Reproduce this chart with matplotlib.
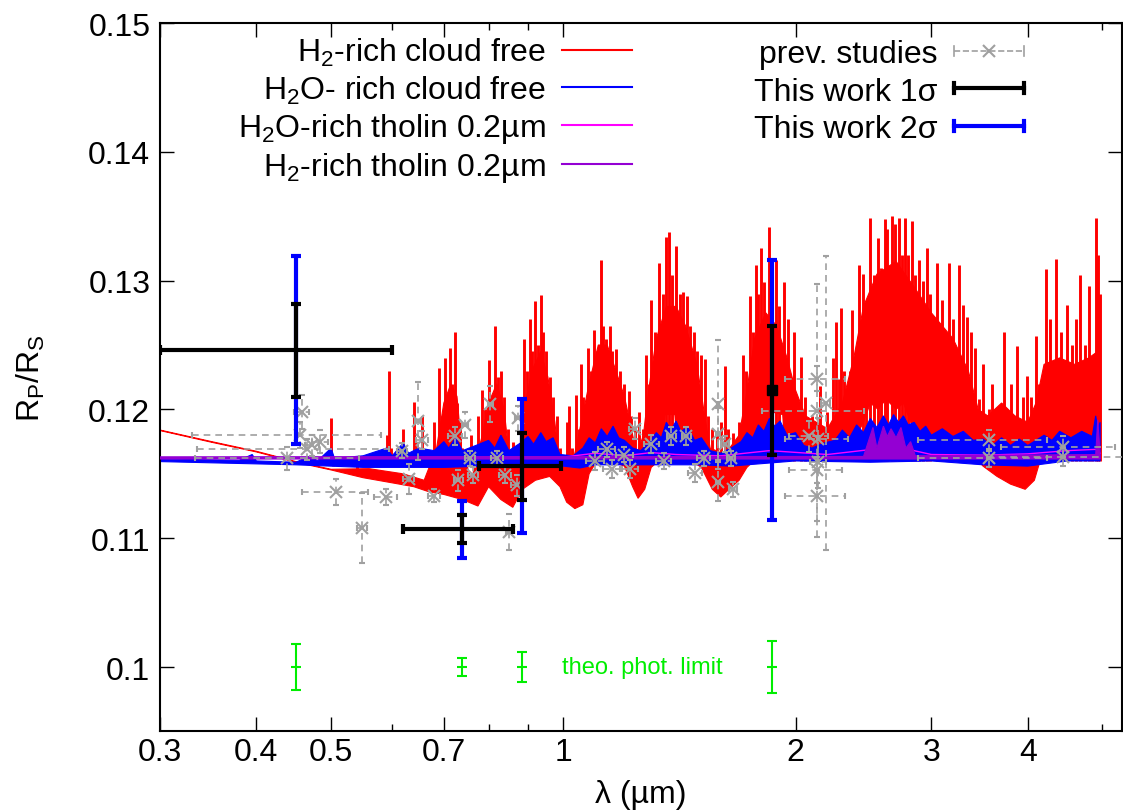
import numpy as np
import matplotlib
matplotlib.use("Agg")
import matplotlib.pyplot as plt
from matplotlib.lines import Line2D
from matplotlib.legend_handler import HandlerBase
from matplotlib.ticker import FixedLocator, NullFormatter

plt.rcParams['font.family'] = ['Liberation Sans', 'DejaVu Sans']
plt.rcParams['mathtext.fontset'] = 'custom'
plt.rcParams['mathtext.rm'] = 'Liberation Sans'
plt.rcParams['mathtext.it'] = 'Liberation Sans:italic'
plt.rcParams['mathtext.bf'] = 'Liberation Sans:bold'

# ---- H2-rich cloud free: dense part (core top / bottom) and line peaks ----
red_core_wl = [0.300, 0.350, 0.400, 0.450, 0.500, 0.560, 0.620, 0.660, 0.685, 0.700, 0.715, 0.728, 0.738, 0.760,
               0.785, 0.800, 0.820, 0.838, 0.850, 0.875, 0.890, 0.910, 0.935, 0.955, 0.975, 0.990, 1.030, 1.055,
               1.080, 1.110, 1.140, 1.170, 1.200, 1.225, 1.245, 1.270, 1.290, 1.320, 1.360, 1.400, 1.440, 1.490,
               1.525, 1.550, 1.620, 1.690, 1.725, 1.770, 1.830, 1.890, 1.950, 2.000, 2.060, 2.200, 2.300, 2.380,
               2.450, 2.550, 2.700, 2.850, 3.000, 3.200, 3.350, 3.450, 3.550, 3.700, 3.850, 4.000, 4.100, 4.200,
               4.400, 4.600, 4.800, 4.930, 4.965]
red_core_r = [0.11840, 0.11750, 0.11675, 0.11595, 0.11535, 0.11540, 0.11500, 0.11450, 0.11700, 0.12050, 0.12200,
              0.12100, 0.11700, 0.11450, 0.11800, 0.12050, 0.12200, 0.12000, 0.11650, 0.11600, 0.12000, 0.12300,
              0.12450, 0.12250, 0.11900, 0.11550, 0.11600, 0.11900, 0.12200, 0.12500, 0.12500, 0.12300, 0.12100,
              0.11850, 0.11650, 0.11800, 0.12150, 0.12550, 0.12800, 0.12800, 0.12650, 0.12350, 0.11950, 0.11700,
              0.11650, 0.11800, 0.12100, 0.12550, 0.12750, 0.12650, 0.12400, 0.12150, 0.11950, 0.11850, 0.12050,
              0.12400, 0.12800, 0.13050, 0.13150, 0.12950, 0.12750, 0.12550, 0.12300, 0.12000, 0.11950, 0.12050,
              0.11950, 0.11900, 0.12050, 0.12350, 0.12400, 0.12350, 0.12400, 0.12450, 0.11650]
red_bot_wl = [0.300, 0.350, 0.400, 0.450, 0.500, 0.550, 0.600, 0.640, 0.670, 0.700, 0.740, 0.775, 0.800, 0.830,
              0.860, 0.885, 0.920, 0.960, 0.990, 1.010, 1.035, 1.060, 1.080, 1.100, 1.150, 1.200, 1.230, 1.250,
              1.275, 1.300, 1.340, 1.355, 1.395, 1.410, 1.450, 1.510, 1.560, 1.600, 1.640, 1.690, 1.730, 1.780,
              1.850, 1.865, 1.925, 1.940, 2.000, 2.250, 2.350, 2.450, 2.500, 2.560, 2.620, 2.700, 2.760, 2.820,
              2.900, 3.200, 3.400, 3.500, 3.650, 3.800, 3.970, 4.080, 4.150, 4.500, 4.965]
red_bot_r = [0.11836, 0.11745, 0.11670, 0.11590, 0.11530, 0.11470, 0.11430, 0.11400, 0.11360, 0.11340, 0.11300,
             0.11250, 0.11400, 0.11300, 0.11240, 0.11380, 0.11450, 0.11480, 0.11400, 0.11280, 0.11230, 0.11260,
             0.11500, 0.11580, 0.11600, 0.11560, 0.11400, 0.11310, 0.11380, 0.11550, 0.11620, 0.11960, 0.11960,
             0.11620, 0.11620, 0.11550, 0.11380, 0.11320, 0.11380, 0.11450, 0.11550, 0.11620, 0.11640, 0.11980,
             0.11960, 0.11640, 0.11640, 0.11650, 0.11700, 0.11900, 0.12050, 0.12000, 0.12080, 0.12000, 0.12050,
             0.11900, 0.11820, 0.11800, 0.11650, 0.11560, 0.11480, 0.11420, 0.11380, 0.11450, 0.11600, 0.11650,
             0.11650]
red_peak_wl = [0.480, 0.497, 0.500, 0.503, 0.540, 0.560, 0.575, 0.590, 0.594, 0.598,
               0.605, 0.620, 0.627, 0.640, 0.646, 0.655, 0.665, 0.680, 0.690, 0.697, 0.702, 0.708, 0.713, 0.718,
               0.724, 0.729, 0.734, 0.740, 0.760, 0.775, 0.785, 0.792, 0.800, 0.806, 0.815, 0.822, 0.830, 0.838,
               0.848, 0.860, 0.880, 0.890, 0.897, 0.905, 0.912, 0.920, 0.927, 0.935, 0.942, 0.950, 0.960, 0.970,
               0.980, 0.990, 1.000, 1.010, 1.018, 1.025, 1.040, 1.048, 1.055, 1.062, 1.075, 1.085, 1.095, 1.105,
               1.118, 1.126, 1.135, 1.148, 1.158, 1.170, 1.185, 1.200, 1.215, 1.225, 1.240, 1.255, 1.268, 1.280,
               1.290, 1.300, 1.315, 1.330, 1.345, 1.360, 1.372, 1.385, 1.400, 1.415, 1.430, 1.445, 1.460, 1.475,
               1.490, 1.510, 1.525, 1.540, 1.560, 1.580, 1.600, 1.620, 1.635, 1.660, 1.690, 1.710, 1.725, 1.745,
               1.760, 1.775, 1.790, 1.805, 1.822, 1.845, 1.860, 1.885, 1.905, 1.930, 1.955, 1.990, 2.030, 2.060,
               2.100, 2.150, 2.200, 2.240, 2.255, 2.275, 2.290, 2.310, 2.330, 2.350, 2.370, 2.395, 2.420, 2.445,
               2.470, 2.500, 2.525, 2.555, 2.580, 2.610, 2.630, 2.665, 2.690, 2.720, 2.745, 2.770, 2.800, 2.830,
               2.860, 2.895, 2.925, 2.960, 2.990, 3.050, 3.100, 3.160, 3.200, 3.260, 3.300, 3.340, 3.380, 3.420,
               3.460, 3.500, 3.560, 3.600, 3.730, 3.800, 3.870, 3.940, 3.990, 4.040, 4.100, 4.140, 4.230, 4.280,
               4.350, 4.420, 4.500, 4.560, 4.620, 4.680, 4.740, 4.800, 4.850, 4.900, 4.930, 4.960]
red_peak_r = [0.11560, 0.11570, 0.11930, 0.11560, 0.11520, 0.11560, 0.11580,
              0.11800, 0.12300, 0.11700, 0.11560, 0.11850, 0.11600, 0.12060, 0.11750, 0.11950, 0.11650, 0.11900,
              0.12320, 0.11950, 0.12400, 0.12000, 0.12480, 0.12200, 0.12600, 0.12050, 0.11900, 0.11700, 0.11800,
              0.11950, 0.12150, 0.12000, 0.12380, 0.12100, 0.12650, 0.12250, 0.12300, 0.12100, 0.11850, 0.11750,
              0.11900, 0.12550, 0.12300, 0.12700, 0.12450, 0.12840, 0.12500, 0.12890, 0.12600, 0.12450, 0.12250,
              0.12100, 0.11950, 0.11700, 0.11600, 0.11900, 0.12030, 0.11700, 0.12110, 0.11850, 0.12350, 0.12100,
              0.12480, 0.12300, 0.12620, 0.12450, 0.13160, 0.12650, 0.12550, 0.12650, 0.12450, 0.12470, 0.12300,
              0.12200, 0.12140, 0.11950, 0.11850, 0.11980, 0.11850, 0.12420, 0.12200, 0.12850, 0.12600, 0.13140,
              0.12900, 0.13340, 0.13380, 0.13040, 0.13270, 0.12900, 0.12910, 0.12880, 0.12650, 0.12600, 0.12450,
              0.12420, 0.12390, 0.11950, 0.11850, 0.11820, 0.11900, 0.12340, 0.11850, 0.11820, 0.11900, 0.12420,
              0.12300, 0.12880, 0.12600, 0.13120, 0.12900, 0.13250, 0.12990, 0.13420, 0.13030, 0.13160, 0.12800,
              0.12990, 0.12700, 0.12600, 0.12410, 0.12100, 0.11950, 0.12180, 0.11980, 0.12400, 0.12680, 0.12240,
              0.12790, 0.12300, 0.12000, 0.12300, 0.12770, 0.12470, 0.13120, 0.13050, 0.12800, 0.13490, 0.13040,
              0.13330, 0.13100, 0.13480, 0.13400, 0.13500, 0.13440, 0.13490, 0.13200, 0.13490, 0.13200, 0.13460,
              0.13040, 0.13160, 0.13000, 0.13250, 0.12900, 0.13140, 0.12850, 0.13140, 0.12700, 0.13120, 0.12810,
              0.12720, 0.12600, 0.12480, 0.12080, 0.12350, 0.12000, 0.12200, 0.12600, 0.12200, 0.12490, 0.12100,
              0.12260, 0.12100, 0.12570, 0.12200, 0.13090, 0.12700, 0.13170, 0.12600, 0.12810, 0.12500, 0.12700,
              0.13040, 0.12500, 0.12960, 0.12400, 0.13490, 0.13200, 0.12900]

# ---- H2O-rich cloud free ----
blue_top_wl = [0.300, 0.380, 0.395, 0.400, 0.450, 0.470, 0.480, 0.500, 0.505, 0.550, 0.590, 0.600, 0.620, 0.630,
               0.650, 0.680, 0.700, 0.710, 0.725, 0.740, 0.770, 0.800, 0.815, 0.830, 0.850, 0.880, 0.900, 0.915,
               0.935, 0.950, 0.970, 0.990, 1.030, 1.060, 1.080, 1.100, 1.120, 1.140, 1.160, 1.180, 1.200, 1.230,
               1.260, 1.290, 1.320, 1.340, 1.360, 1.380, 1.400, 1.420, 1.450, 1.480, 1.510, 1.550, 1.600, 1.650,
               1.700, 1.730, 1.760, 1.790, 1.820, 1.850, 1.880, 1.910, 1.950, 2.000, 2.050, 2.100, 2.180, 2.250,
               2.300, 2.350, 2.400, 2.450, 2.500, 2.550, 2.600, 2.640, 2.680, 2.720, 2.760, 2.800, 2.850, 2.900,
               2.950, 3.000, 3.100, 3.200, 3.300, 3.400, 3.500, 3.600, 3.700, 3.800, 3.900, 4.000, 4.100, 4.200,
               4.300, 4.400, 4.550, 4.700, 4.850, 4.900, 4.930, 4.965]
blue_top_r = [0.11615, 0.11605, 0.11650, 0.11600, 0.11590, 0.11640, 0.11600, 0.11700, 0.11620, 0.11640, 0.11700,
              0.11640, 0.11740, 0.11660, 0.11700, 0.11680, 0.11750, 0.11700, 0.11780, 0.11680, 0.11720, 0.11760,
              0.11700, 0.11800, 0.11680, 0.11740, 0.11790, 0.11730, 0.11820, 0.11750, 0.11780, 0.11650, 0.11640,
              0.11700, 0.11780, 0.11740, 0.11850, 0.11790, 0.11870, 0.11780, 0.11760, 0.11700, 0.11680, 0.11740,
              0.11820, 0.11780, 0.11900, 0.11840, 0.11910, 0.11830, 0.11860, 0.11760, 0.11780, 0.11680, 0.11660,
              0.11700, 0.11750, 0.11820, 0.11780, 0.11880, 0.11830, 0.11930, 0.11870, 0.11910, 0.11800, 0.11820,
              0.11720, 0.11700, 0.11740, 0.11760, 0.11840, 0.11780, 0.11880, 0.11820, 0.11930, 0.11860, 0.11950,
              0.11880, 0.11960, 0.11900, 0.11950, 0.11880, 0.11900, 0.11830, 0.11870, 0.11800, 0.11850, 0.11790,
              0.11830, 0.11760, 0.11770, 0.11720, 0.11780, 0.11720, 0.11770, 0.11720, 0.11760, 0.11800, 0.11760,
              0.11830, 0.11780, 0.11830, 0.11790, 0.11950, 0.11850, 0.11900]
blue_bot_wl = [0.300, 0.450, 0.550, 0.700, 0.900, 1.000, 1.050, 1.100, 1.500, 1.650, 2.000, 2.500, 3.000, 3.500,
               4.000, 4.500, 4.965]
blue_bot_r = [0.11595, 0.11570, 0.11550, 0.11550, 0.11570, 0.11560, 0.11545, 0.11570, 0.11570, 0.11560, 0.11600,
              0.11590, 0.11600, 0.11570, 0.11560, 0.11600, 0.11600]

# ---- tholin models ----
mag_wl = [0.30, 1.00, 1.10, 1.20, 1.30, 1.40, 1.60, 1.85, 2.20, 2.60, 2.80, 3.00, 3.50, 4.00, 4.50, 4.90, 4.965]
mag_r = [0.11625, 0.11630, 0.11660, 0.11640, 0.11665, 0.11650, 0.11640, 0.11680, 0.11650, 0.11700, 0.11690,
         0.11650, 0.11645, 0.11655, 0.11680, 0.11690, 0.11660]

purp_top_wl = [0.30, 2.45, 2.52, 2.55, 2.60, 2.63, 2.66, 2.70, 2.74, 2.78, 2.82, 2.86, 4.90, 4.93, 4.965]
purp_top_r = [0.11632, 0.11635, 0.11860, 0.11700, 0.11870, 0.11790, 0.11850, 0.11780, 0.11860, 0.11700, 0.11750,
              0.11640, 0.11650, 0.11920, 0.11660]
purp_bot_wl = [0.30, 4.965]
purp_bot_r = [0.11615, 0.11615]

# ---- previous studies ----
prev_wl = [0.438, 0.458, 0.455, 0.472, 0.484, 0.465, 0.508, 0.548, 0.589, 0.618, 0.630, 0.648, 0.656, 0.679,
           0.724, 0.731, 0.746, 0.757, 0.764, 0.804, 0.820, 0.840, 0.851, 0.870, 0.874, 1.10, 1.138, 1.155,
           1.20, 1.220, 1.238, 1.301, 1.35, 1.381, 1.444, 1.481, 1.52, 1.587, 1.587, 1.587, 1.62, 1.65, 1.66,
           2.083, 2.13, 2.19, 2.13, 2.14, 2.14, 2.13, 2.13, 3.56, 3.56, 4.44, 4.44]
prev_r = [0.1162, 0.1198, 0.1180, 0.1172, 0.1175, 0.1169, 0.1136, 0.1108, 0.1132, 0.1168, 0.1146, 0.1191,
          0.1176, 0.1133, 0.1179, 0.1145, 0.1188, 0.1162, 0.1149, 0.1204, 0.1162, 0.1149, 0.1105, 0.1141,
          0.1193, 0.1160, 0.1169, 0.1154, 0.1165, 0.1154, 0.1185, 0.1173, 0.1160, 0.1179, 0.1179, 0.1151,
          0.1162, 0.1204, 0.1181, 0.1144, 0.1173, 0.1162, 0.1138, 0.1179, 0.1224, 0.1205, 0.1199, 0.1177,
          0.1159, 0.1153, 0.1133, 0.1176, 0.1162, 0.1171, 0.1163]
prev_xerr = [0.105, 0.010, 0.125, 0.010, 0.012, 0.130, 0.050, 0.008, 0.020, 0.010, 0.010, 0.006, 0.012, 0.012,
             0.015, 0.010, 0.006, 0.012, 0.012, 0.006, 0.015, 0.015, 0.008, 0.015, 0.008, 0.03, 0.03, 0.03,
             0.03, 0.03, 0.02, 0.03, 0.03, 0.02, 0.02, 0.03, 0.03, 0.005, 0.01, 0.01, 0.02, 0.02, 0.02,
             0.12, 0.19, 0.03, 0.32, 0.20, 0.05, 0.17, 0.19, 0.68, 0.68, 0.75, 0.90]
prev_yerr = [0.0009, 0.0013, 0.0010, 0.0008, 0.0009, 0.0008, 0.0010, 0.0027, 0.0006, 0.0006, 0.0012, 0.0030,
             0.0007, 0.0005, 0.0007, 0.0008, 0.0010, 0.0006, 0.0006, 0.0014, 0.0006, 0.0006, 0.0014, 0.0008,
             0.0010, 0.0007, 0.0006, 0.0007, 0.0006, 0.0007, 0.0008, 0.0007, 0.0006, 0.0007, 0.0007, 0.0007,
             0.0006, 0.0050, 0.0020, 0.0015, 0.0006, 0.0006, 0.0006, 0.0012, 0.0010, 0.0114, 0.0098, 0.0016,
             0.0020, 0.0010, 0.0020, 0.0008, 0.0007, 0.0008, 0.0007]

# ---- this work ----
tw_wl = [0.45, 0.74, 0.885, 1.865]
tw_r = [0.1246, 0.1107, 0.1156, 0.1215]
tw_xerr = [0.15, 0.12, 0.107, 0.0]
tw_1sig = [0.0036, 0.0011, 0.0026, 0.0050]
tw_2sig = [0.0073, 0.0022, 0.0052, 0.0101]

phot_level = 0.1
phot_err = [0.00175, 0.0007, 0.0012, 0.0020]

xticks = [0.3, 0.4, 0.5, 0.7, 1, 2, 3, 4]
xtick_labels = ['0.3', '0.4', '0.5', '0.7', '1', '2', '3', '4']
xminor = [0.6, 0.8, 0.9, 5]
yticks = [0.10, 0.11, 0.12, 0.13, 0.14, 0.15]
ytick_labels = ['0.1', '0.11', '0.12', '0.13', '0.14', '0.15']

GREY = '#a0a0a0'
GREEN = '#00ee00'
FS = 23
PEAK_BASE = 0.1160   # where the thin line peaks start from


class CapHandler(HandlerBase):
    # horizontal sample with end caps, like gnuplot errorbar keys
    def create_artists(self, legend, h, xd, yd, width, height, fontsize, trans):
        y = height / 2 - yd
        x0, x1 = -xd, width - xd
        c = h.get_color()
        lw = h.get_linewidth()
        s = 0.22 * height
        line = Line2D([x0, x1], [y, y], color=c, lw=lw, ls=h.get_linestyle(), transform=trans)
        caps = Line2D([x0, x0, np.nan, x1, x1], [y - s, y + s, np.nan, y - s, y + s],
                      color=c, lw=lw, transform=trans)
        arts = [line, caps]
        if h.get_marker() not in (None, 'None', '', 'none'):
            arts.append(Line2D([(x0 + x1) / 2], [y], marker=h.get_marker(), ms=h.get_markersize(),
                               mew=h.get_markeredgewidth(), color=c, ls='none', transform=trans))
        return arts


fig = plt.figure(figsize=(11.23, 8.12), dpi=100)
ax = fig.add_axes([0.1425, 0.098, 0.8566, 0.8724])
ax.set_xscale('log')

ax.fill(np.r_[red_core_wl, red_bot_wl[::-1]], np.r_[red_core_r, red_bot_r[::-1]],
        facecolor='red', edgecolor='red', lw=0.8, zorder=1)
ax.vlines(red_peak_wl, PEAK_BASE, red_peak_r, color='red', lw=2.1, zorder=1)
ax.fill(np.r_[blue_top_wl, blue_bot_wl[::-1]], np.r_[blue_top_r, blue_bot_r[::-1]],
        facecolor='blue', edgecolor='blue', lw=0.8, zorder=2)
ax.plot(mag_wl, mag_r, color='magenta', lw=1.0, zorder=3)
ax.fill(np.r_[purp_top_wl, purp_bot_wl[::-1]], np.r_[purp_top_r, purp_bot_r[::-1]],
        facecolor='darkviolet', edgecolor='darkviolet', lw=0.8, zorder=4)

eb = ax.errorbar(prev_wl, prev_r, xerr=prev_xerr, yerr=prev_yerr, fmt='x', color=GREY, ms=8, mew=1.5,
                 ecolor=GREY, elinewidth=1.2, capsize=2.5, capthick=1.2, zorder=5)
for lc in eb[2]:
    lc.set_linestyle((0, (4, 3)))

ax.errorbar(tw_wl, tw_r, yerr=tw_2sig, fmt='none', ecolor='blue', elinewidth=3, capsize=3.8,
            capthick=3, zorder=6)
ax.errorbar(tw_wl, tw_r, xerr=tw_xerr, yerr=tw_1sig, fmt='none', ecolor='black', elinewidth=3,
            capsize=3.8, capthick=3, zorder=7)
ax.plot(tw_wl[3:], tw_r[3:], 's', color='black', ms=7, zorder=8)

ax.errorbar(tw_wl, np.full(len(tw_wl), phot_level), yerr=phot_err, fmt='_', color=GREEN, ms=7, mew=1.5,
            ecolor=GREEN, elinewidth=1.5, capsize=3.6, capthick=1.5, zorder=6)
ax.text(0.995, phot_level, 'theo. phot. limit', color=GREEN, fontsize=17, ha='left', va='center')

ax.set_xlim(0.3, 5.30)
ax.set_ylim(0.095, 0.15)
ax.xaxis.set_major_locator(FixedLocator(xticks))
ax.set_xticklabels(xtick_labels)
ax.xaxis.set_minor_locator(FixedLocator(xminor))
ax.xaxis.set_minor_formatter(NullFormatter())
ax.set_yticks(yticks)
ax.set_yticklabels(ytick_labels)
ax.tick_params(which='both', direction='in', top=True, right=True, labelsize=FS, width=1)
ax.tick_params(which='major', length=10)
ax.tick_params(which='minor', length=5)
ax.tick_params(axis='x', pad=4)
ax.tick_params(axis='y', pad=7)
for sp in ax.spines.values():
    sp.set_linewidth(1.5)

ax.set_xlabel('λ (µm)', fontsize=FS)
ax.set_ylabel('R$_\\mathrm{P}$/R$_\\mathrm{S}$', fontsize=FS)
ax.xaxis.set_label_coords(0.5, -0.067)
ax.yaxis.set_label_coords(-0.118, 0.5)

h_models = [Line2D([], [], color='red', lw=1.5), Line2D([], [], color='blue', lw=1.5),
            Line2D([], [], color='magenta', lw=1.5), Line2D([], [], color='darkviolet', lw=1.5)]
l_models = ['H$_2$-rich cloud free', 'H$_2$O- rich cloud free', 'H$_2$O-rich tholin 0.2µm',
            'H$_2$-rich tholin 0.2µm']
leg1 = ax.legend(h_models, l_models, loc='center right', bbox_to_anchor=(0.4906, 0.877), frameon=False,
                 markerfirst=False, fontsize=FS, borderpad=0, borderaxespad=0, handlelength=2.2,
                 handletextpad=0.5, labelspacing=0.17)
ax.add_artist(leg1)

h_data = [Line2D([], [], color=GREY, lw=1.2, ls=(0, (4, 3)), marker='x', ms=8, mew=1.5),
          Line2D([], [], color='black', lw=3), Line2D([], [], color='blue', lw=3)]
l_data = ['prev. studies', 'This work 1σ', 'This work 2σ']
ax.legend(h_data, l_data, loc='center right', bbox_to_anchor=(0.8981, 0.9033), frameon=False,
          markerfirst=False, fontsize=FS, borderpad=0, borderaxespad=0, handlelength=2.2,
          handletextpad=0.5, labelspacing=0.24, handler_map={h: CapHandler() for h in h_data})

fig.savefig('out.png', dpi=100)
